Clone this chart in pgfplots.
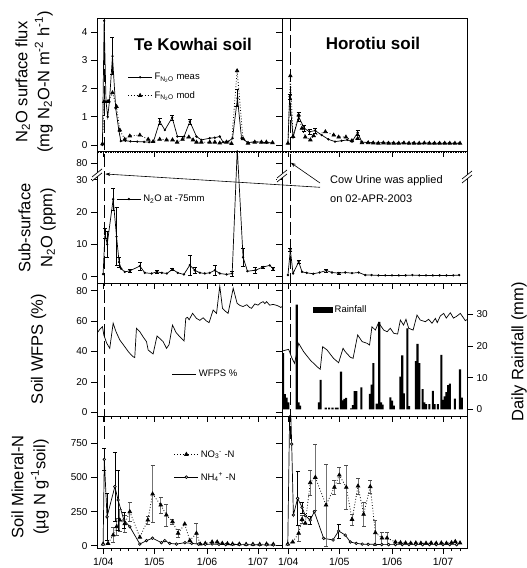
\documentclass[border=0pt]{standalone}
\usepackage{fontspec}
\setmainfont{Liberation Sans}
\usepackage{pgfplots}
\pgfplotsset{compat=1.18}
\usetikzlibrary{arrows.meta}

\newcommand{\tickfont}{\fontsize{10}{12}\selectfont}
\newcommand{\legfont}{\fontsize{9.5}{11}\selectfont}
\newcommand{\labfont}{\fontsize{16.5}{22}\selectfont}

% "//" mark where an axis is broken
\newcommand{\axisbreak}[2]{%
  \fill[white] (#1pt-5pt,#2pt-6pt) -- (#1pt+5pt,#2pt+2pt) -- (#1pt+5pt,#2pt+6pt) -- (#1pt-5pt,#2pt-2pt) -- cycle;
  \draw[line width=0.7pt] (#1pt-5pt,#2pt-6pt) -- (#1pt+5pt,#2pt+2pt);
  \draw[line width=0.7pt] (#1pt-5pt,#2pt-2pt) -- (#1pt+5pt,#2pt+6pt);
}

\pgfplotsset{
  panel/.style={
    scale only axis, width=185pt, anchor=south west,
    xmin=-3.7, xmax=105.1,
    axis line style={line width=0.8pt},
    every tick/.style={black, line width=0.6pt},
    tick align=outside,
    major tick length=6pt, minor tick length=3pt,
    xtick={0,30,61,91}, xticklabels={},
    minor xtick={5,10,15,20,25,35,40,45,50,55,66,71,76,81,86,96,101},
    xtick pos=left, ytick pos=left,
    /pgf/number format/assume math mode=true,
    tick label style={font=\tickfont},
    legend style={draw=none, fill=none, font=\legfont, inner sep=0pt, anchor=west},
    legend cell align=left,
    legend image code/.code={%
      \draw[mark repeat=2, mark phase=2, ##1]
        plot coordinates {(0pt,0pt) (12pt,0pt) (24pt,0pt)};},
  },
  meas/.style={black, line width=0.7pt, mark=*, mark size=0.8pt},
  modl/.style={black, line width=0.8pt, dotted, mark=triangle*, mark size=1.9pt, mark options={solid}},
  nitr/.style={black, line width=0.8pt, dotted, mark=triangle*, mark size=2pt, mark options={solid}},
  ammo/.style={black, line width=0.7pt, mark=*, mark size=1.3pt, mark options={fill=white}},
  ebar/.style={draw=none, forget plot, error bars/.cd, y dir=both, y explicit,
    error bar style={draw=black, solid, line width=0.5pt},
    error mark options={rotate=90, mark size=2pt, draw=black, solid, line width=0.5pt}},
  gbar/.style={draw=none, forget plot, error bars/.cd, y dir=both, y explicit,
    error bar style={draw=black!55, solid, line width=1pt},
    error mark options={rotate=90, mark size=2pt, draw=black!70, solid, line width=0.6pt}},
}

\begin{document}
\begin{tikzpicture}
\useasboundingbox (0pt,0pt) rectangle (527pt,568pt);

%================ Row 1: N2O surface flux ================
\begin{axis}[panel, at={(97pt,417pt)}, height=133pt,
  ymin=-0.213, ymax=4.5, ytick={0,1,2,3,4},
  minor xtick={-3,-2,...,105}, minor tick length=2pt,
  legend style={at={(0.165,0.485)}, row sep=6pt}]
\addplot[meas] table[row sep=\\] {
x y\\ -0.5 0\\ 0.5 4.4\\ 1.6 1.54\\ 2.6 1.0\\ 3.6 1.54\\ 5.4 3.15\\ 7.3 1.3\\ 9.2 0.5\\
10.3 0.14\\ 13 0.15\\ 16 0.13\\ 20 0.12\\ 24 0.11\\ 27 0.1\\ 29.5 0.12\\ 33.2 0.83\\
36.2 0.53\\ 40.5 0.97\\ 43.6 0.3\\ 47.5 0.3\\ 50.9 0.83\\ 54.8 0.3\\ 57.7 0.18\\
62.6 0.24\\ 65.6 0.26\\ 68.5 0.3\\ 70.5 0.1\\ 73.4 0.12\\ 76 0.24\\ 78.9 1.66\\
81.3 0.24\\ 85.2 0.08\\ 89 0.12\\ 93 0.1\\ 96 0.08\\ 99.9 0.08\\
};
\addplot[modl] table[row sep=\\] {
x y\\ -0.5 0.04\\ 0.5 1.54\\ 2.8 1.54\\ 5.4 1.85\\ 7.8 1.36\\ 9.7 0.53\\ 12.6 0.2\\
15.6 0.32\\ 21.5 0.35\\ 26.4 0.2\\ 29.3 0.12\\ 33.2 0.2\\ 37.2 0.18\\ 40.7 0.18\\
43.4 0.1\\ 46.6 0.2\\ 50.3 0.28\\ 52.8 0.18\\ 54.8 0.1\\ 57.7 0.1\\ 62.6 0.1\\
65.6 0.1\\ 68.5 0.07\\ 72.4 0.1\\ 75.4 0.05\\ 78.7 2.63\\ 82.2 0.22\\ 85.1 0.06\\
89.1 0.1\\ 93 0.1\\ 95.9 0.1\\ 99.5 0.08\\
};
\addplot[ebar] table[row sep=\\, y error index=2] {
x y e\\ 5.4 3.15 0.65\\ 33.2 0.83 0.1\\ 40.5 0.97 0.1\\ 50.9 0.83 0.08\\ 78.9 1.66 0.3\\
};
\legend{F\textsubscript{N\textsubscript{2}O} meas, F\textsubscript{N\textsubscript{2}O} mod}
\end{axis}

\begin{axis}[panel, at={(282pt,417pt)}, height=133pt,
  ymin=-0.213, ymax=4.5, ytick={0,1,2,3,4}, yticklabels={},
  minor xtick={-3,-2,...,105}, minor tick length=2pt]
\addplot[meas] table[row sep=\\] {
x y\\ -0.2 0.06\\ 0.8 1.71\\ 2.8 0.27\\ 6.1 1.0\\ 9.4 0.59\\ 12.5 0.47\\ 15.8 0.51\\
19.7 0.35\\ 23.6 0.2\\ 27.5 0.12\\ 31.4 0.15\\ 34.7 0.18\\ 37.5 0.12\\ 40.8 0.44\\
43.3 0.1\\ 46.5 0.09\\ 49.5 0.08\\ 52.5 0.07\\ 55.5 0.08\\ 58.5 0.07\\ 61.5 0.07\\
64.5 0.06\\ 67.5 0.07\\ 70.5 0.06\\ 73.5 0.07\\ 76.5 0.06\\ 79.5 0.06\\ 82.5 0.07\\
85.5 0.06\\ 88.5 0.06\\ 91.5 0.06\\ 94.5 0.06\\ 97.5 0.06\\ 100.5 0.06\\
};
\addplot[modl] table[row sep=\\] {
x y\\ -0.2 0.06\\ 1.2 2.45\\ 2.8 0.3\\ 6.1 1.06\\ 8 0.59\\ 10 0.28\\ 13 0.18\\
14.9 0.33\\ 21.8 0.47\\ 26.7 0.35\\ 29.6 0.28\\ 33.9 0.28\\ 37.4 0.15\\ 40.8 0.23\\
43.3 0.08\\ 47 0.08\\ 50 0.07\\ 53 0.06\\ 56 0.07\\ 59 0.06\\ 62 0.06\\ 65 0.06\\
68 0.07\\ 71 0.06\\ 74 0.06\\ 77 0.06\\ 80 0.07\\ 83 0.06\\ 86 0.06\\ 89 0.06\\
92 0.06\\ 95 0.06\\ 98 0.06\\ 101 0.06\\
};
\addplot[ebar] table[row sep=\\, y error index=2] {
x y e\\ 0.8 1.71 0.1\\ 6.1 1.0 0.15\\ 9.4 0.59 0.1\\ 12.5 0.47 0.1\\ 15.8 0.51 0.08\\ 40.8 0.44 0.08\\
};
\end{axis}

%================ Row 2: sub-surface N2O (upper segment above the break is compressed) ================
\begin{axis}[panel, at={(97pt,285pt)}, height=132pt,
  ymin=-1.95, ymax=38.9, ytick={0,10,20,30,35.17}, yticklabels={0,10,20,30,80},
  legend style={at={(0.105,0.636)}}]
\addplot[meas] table[row sep=\\] {
x y\\ -0.1 0.8\\ 1.0 13.5\\ 2.3 10.0\\ 5.8 24.0\\ 7.8 12.4\\ 9.3 4.5\\ 10.5 2.5\\
12.6 1.5\\ 15.6 1.8\\ 21.5 3.3\\ 24.4 1.2\\ 28.4 1.0\\ 31.5 1.5\\ 34.4 1.2\\
37.4 1.0\\ 40.7 2.3\\ 43.8 1.2\\ 47.4 0.7\\ 50.9 3.6\\ 53.8 2.0\\ 56.8 1.2\\
59.7 1.0\\ 62.6 1.2\\ 65.6 2.0\\ 68.5 1.0\\ 72.5 0.7\\ 75.8 1.0\\ 78.8 39.5\\
82.2 6.0\\ 84.8 1.7\\ 89.5 2.0\\ 94 3.0\\ 97.9 3.5\\ 99.9 2.4\\
};
\addplot[ebar] table[row sep=\\, y error index=2] {
x y e\\ 1.0 13.5 1.5\\ 2.3 10.0 4\\ 5.8 24.0 3.5\\ 7.8 12.4 9\\ 9.3 4.5 1.5\\
15.6 1.8 0.5\\ 21.5 3.3 1.2\\ 31.5 1.5 0.4\\ 40.7 2.3 0.3\\ 50.9 3.6 3\\ 53.8 2.0 0.8\\
65.6 2.0 1.5\\ 75.8 1.0 0.8\\ 82.2 6.0 2.8\\ 89.5 2.0 1\\ 94 3.0 0.3\\ 99.9 2.4 0.5\\
};
\legend{N\textsubscript{2}O at -75mm}
\end{axis}

\begin{axis}[panel, at={(282pt,285pt)}, height=132pt,
  ymin=-1.95, ymax=38.9, ytick={0,10,20,30,35.17}, yticklabels={}]
\addplot[meas] table[row sep=\\] {
x y\\ -0.2 0.5\\ 1.2 8.3\\ 2.8 1.0\\ 6.1 4.6\\ 8.1 1.5\\ 10.8 1.2\\ 14.7 0.9\\
18.4 1.3\\ 22.4 1.9\\ 25.7 1.3\\ 29.6 1.1\\ 33.5 1.3\\ 37.5 1.1\\ 41.4 1.3\\
45.3 0.5\\ 49 0.5\\ 53 0.4\\ 57 0.4\\ 61 0.4\\ 65 0.4\\ 69 0.4\\ 73 0.5\\ 77 0.4\\
81 0.4\\ 85 0.4\\ 89 0.4\\ 93 0.4\\ 97 0.4\\ 100.5 0.5\\
};
\addplot[ebar] table[row sep=\\, y error index=2] {
x y e\\ 1.2 8.3 0.5\\ 6.1 4.6 0.5\\ 22.4 1.9 0.5\\ 29.6 1.1 0.3\\
};
\end{axis}

%================ Row 3: WFPS and rainfall ================
\begin{axis}[panel, at={(97pt,152pt)}, height=133pt,
  ymin=-2.43, ymax=85.07, ytick={0,20,40,60,80},
  legend style={at={(0.405,0.316)}}]
\addplot[black, line width=0.7pt] table[row sep=\\] {
x y\\ -3.7 52\\ -2.1 54.5\\ -0.5 56.3\\ 0.3 50.9\\ 2.0 45.5\\ 3.8 42.1\\ 5.8 58.6\\
7.5 53\\ 9.7 47.6\\ 12.6 43.2\\ 15.0 39.5\\ 17.5 36.6\\ 18.5 36.0\\ 19.5 55.3\\
21.5 53.0\\ 23.5 49.5\\ 25.4 46.5\\ 26.4 41.0\\ 28.0 39.5\\ 29.3 38.4\\ 31.6 50.2\\
33.5 48.3\\ 35.2 46.5\\ 37.2 42.1\\ 38.7 44.6\\ 40.7 57.4\\ 42.8 52.5\\ 45.0 49.7\\
47.5 46.9\\ 48.5 61.8\\ 49.5 62.5\\ 50.5 60.9\\ 52.5 65.1\\ 54.8 61.8\\ 56.8 60.5\\
58.7 62.2\\ 60.5 60.2\\ 62.2 59.0\\ 64.6 67.3\\ 66.6 65.1\\ 68.5 83.1\\ 70.1 68.4\\
71.8 66.5\\ 73.4 65.1\\ 76.4 81.6\\ 78.7 71.7\\ 80.5 70.2\\ 82.2 69.6\\ 84.4 70.8\\
86.0 69.0\\ 87.2 68.4\\ 89.1 71.3\\ 91.0 70.5\\ 92.5 72.0\\ 94.0 72.8\\ 95.0 71.5\\
96.0 72.8\\ 97.9 70.5\\ 99.9 71.0\\ 101.5 70.5\\ 102.8 70.0\\ 104.4 69.0\\ 105.1 69.5\\
};
\legend{WFPS \%}
\end{axis}

\begin{axis}[panel, at={(282pt,152pt)}, height=133pt,
  ymin=-2.43, ymax=85.07, ytick={0,20,40,60,80}, yticklabels={}]
\addplot[black, line width=0.7pt] table[row sep=\\] {
x y\\ -3.7 40.3\\ 0.2 41.4\\ 2.2 35.5\\ 3.7 32.2\\ 6.1 45.4\\ 9.0 39.9\\ 12.9 34.4\\
16.9 30.0\\ 18.8 28.3\\ 20.2 43.2\\ 22.8 41.0\\ 26.6 35.5\\ 29.6 32.6\\ 32.2 42.1\\
33.5 39.9\\ 36.5 36.2\\ 38.1 35.5\\ 40.8 50.9\\ 43.4 46.5\\ 46.3 45.4\\ 47.8 44.3\\
49.2 56.3\\ 51.2 54.1\\ 53.1 59.0\\ 56.1 54.1\\ 58.1 53.0\\ 60.0 55.3\\ 62.0 52.0\\
64.3 51.5\\ 65.9 60.7\\ 67.8 57.4\\ 69.2 61.2\\ 70.8 55.3\\ 73.4 54.1\\ 75.7 64.0\\
77.6 60.7\\ 80.6 59.6\\ 82.5 61.2\\ 84.5 58.6\\ 86.5 61.8\\ 87.6 59.0\\ 89.4 63.4\\
91.4 65.1\\ 92.9 62.0\\ 95.3 65.5\\ 97.1 62.0\\ 98.8 63.0\\ 101.2 65.1\\ 104.1 60.3\\
105.1 61.0\\
};
\end{axis}

\begin{axis}[scale only axis, width=185pt, height=133pt, anchor=south west,
  at={(282pt,152pt)}, xmin=-3.7, xmax=105.1,
  ymin=-2.11, ymax=39.84, ytick={0,10,20,30,40},
  axis y line*=right, hide x axis,
  axis line style={line width=0.8pt},
  every tick/.style={black, line width=0.6pt},
  tick align=outside, major tick length=6pt,
  /pgf/number format/assume math mode=true,
  tick label style={font=\tickfont},
  ybar, bar width=2.1pt,
  legend style={draw=none, fill=none, font=\legfont, inner sep=0pt, anchor=west, at={(0.165,0.797)}},
  legend image code/.code={\fill[black] (0pt,-3.3pt) rectangle (20pt,3.3pt);}]
\addplot[fill=black, draw=none] table[row sep=\\] {
x y\\ -3 17.7\\ -2 4.8\\ -1 3.7\\ 0 2.2\\ 5 33\\ 6 2.2\\ 7 1.2\\ 18 2.2\\ 19 9.3\\
22 0.5\\ 24 0.5\\ 26 0.5\\ 28 0.5\\ 29 0.5\\ 31 11.9\\ 32 2.8\\ 33 3.3\\ 34 3.6\\
37 0.3\\ 38 1.3\\ 39 5.7\\ 40 5.7\\ 43 6.9\\ 48 4.9\\ 49 7.8\\ 50 14.6\\ 52 1.8\\
53.5 27.6\\ 54.5 2.2\\ 55.5 1.5\\ 60 3.8\\ 61 2.7\\ 62 1.2\\ 66 10.3\\ 67 17\\
68 5\\ 70 25.5\\ 71 1\\ 75 15.2\\ 76 20.6\\ 77 14.6\\ 79 6.4\\ 80 2.2\\ 81 1.6\\
83 1.6\\ 85 5.8\\ 86 1.6\\ 88 1.6\\ 90 17.2\\ 91 3\\ 92 4.1\\ 93 5.4\\ 94 7.6\\
95 8.1\\ 98 3.4\\ 101 12.6\\ 102 3.7\\
};
\legend{Rainfall}
\end{axis}

%================ Row 4: soil mineral N ================
\begin{axis}[panel, at={(97pt,20pt)}, height=132pt,
  ymin=-16.9, ymax=951, ytick={0,250,500,750},
  xticklabels={1/04,1/05,1/06,1/07},
  xticklabel style={font=\fontsize{10.5}{12}\selectfont},
  legend style={at={(0.415,0.621)}, row sep=10pt}]
\addplot[nitr] table[row sep=\\] {
x y\\ -0.1 12\\ 2.8 17\\ 5.8 78\\ 7.8 139\\ 9.7 188\\ 12.6 161\\ 15.6 249\\
21.5 62\\ 26.2 188\\ 29.0 379\\ 33.8 298\\ 37.1 225\\ 40.7 176\\ 44 91\\ 47.9 159\\
50.9 38\\ 54.8 91\\ 57 12\\ 60 17\\ 64 27\\ 67 27\\ 70 17\\ 73 15\\ 76 12\\ 80 12\\
84 10\\ 88 10\\ 92 10\\ 96 12\\ 100 10\\
};
\addplot[ammo] table[row sep=\\] {
x y\\ -0.1 10\\ 0.6 633\\ 2.2 212\\ 6.8 433\\ 8.7 335\\ 12.1 188\\ 15.6 139\\
21.5 12\\ 25.4 37\\ 28.9 55\\ 34.2 22\\ 36.2 37\\ 39.1 17\\ 43 12\\ 48 22\\ 52 17\\
56 12\\ 60 10\\ 64 12\\ 68 10\\ 72 8\\ 76 10\\ 80 8\\ 84 8\\ 88 8\\ 92 6\\ 96 6\\ 100 5\\
};
\addplot[gbar] table[row sep=\\, y error index=2] {
x y e\\ 5.8 78 55\\ 7.8 139 60\\ 9.7 188 80\\ 12.6 161 60\\ 15.6 249 70\\ 26.2 188 30\\
29.0 379 210\\ 33.8 298 60\\ 37.1 225 80\\ 40.7 176 20\\ 44 91 30\\ 54.8 91 75\\
};
\addplot[ebar] table[row sep=\\, y error index=2] {
x y e\\ 0.6 633 80\\ 2.2 212 170\\ 6.8 433 255\\ 8.7 335 220\\ 12.1 188 60\\
};
\legend{NO\textsubscript{3}\textsuperscript{-} -N, NH\textsubscript{4}\textsuperscript{+} -N}
\end{axis}

\begin{axis}[panel, at={(282pt,20pt)}, height=132pt,
  ymin=-16.9, ymax=951, ytick={0,250,500,750}, yticklabels={},
  xticklabels={1/04,1/05,1/06,1/07},
  xticklabel style={font=\fontsize{10.5}{12}\selectfont}]
\addplot[nitr] table[row sep=\\] {
x y\\ -0.3 12\\ 2.6 27\\ 6.1 91\\ 8.1 193\\ 10 164\\ 12.9 462\\ 15.9 501\\ 22.2 298\\
27.1 428\\ 30 518\\ 34.1 428\\ 37.5 193\\ 41 437\\ 44.3 230\\ 48.2 433\\ 51.2 95\\
55.1 56\\ 58.1 56\\ 63 27\\ 66 22\\ 69 20\\ 72 18\\ 75 20\\ 78 18\\ 81 18\\ 84 20\\
87 18\\ 90 20\\ 93 18\\ 96 22\\ 98.2 30\\ 101 20\\
};
\addplot[ammo] table[row sep=\\] {
x y\\ -0.3 10\\ 1.0 1150\\ 2.0 745\\ 3.0 225\\ 5.5 347\\ 8.1 281\\ 10 220\\ 12.9 188\\
15.3 249\\ 20.8 54\\ 26.3 42\\ 29.6 108\\ 33.5 78\\ 36.5 27\\ 40 17\\ 43.5 12\\
47 10\\ 51 10\\ 55 8\\ 59 8\\ 63 8\\ 67 8\\ 71 8\\ 75 8\\ 79 8\\ 83 8\\ 87 8\\
91 8\\ 95 8\\ 99 8\\
};
\addplot[gbar] table[row sep=\\, y error index=2] {
x y e\\ 6.1 91 60\\ 8.1 193 30\\ 12.9 462 90\\ 15.9 501 240\\ 22.2 298 300\\
27.1 428 50\\ 30 518 60\\ 34.1 428 160\\ 37.5 193 40\\ 41 437 60\\ 44.3 230 90\\
48.2 433 50\\ 51.2 95 90\\ 55.1 56 45\\ 58.1 56 45\\
};
\addplot[ebar] table[row sep=\\, y error index=2] {
x y e\\ 5.5 347 200\\ 8.1 281 40\\ 12.9 188 30\\ 29.6 108 50\\
};
\end{axis}

%================ Annotations ================
% day of urine application
\draw[line width=0.8pt, dash pattern=on 13pt off 4pt] (104.8pt,550pt) -- (104.8pt,128pt);
\draw[line width=0.8pt, dash pattern=on 13pt off 4pt] (290.3pt,550pt) -- (290.3pt,128pt);

% broken sub-surface axis
\axisbreak{97}{393}
\axisbreak{282}{392}
\axisbreak{467}{391}

\draw[line width=0.6pt, -{Stealth[length=5pt,width=3.5pt]}] (320pt,385pt) -- (290.8pt,405.3pt);
\draw[line width=0.6pt, -{Stealth[length=5pt,width=3.5pt]}] (320pt,380.7pt) -- (105.3pt,394pt);
\node[anchor=base west, inner sep=0pt, font=\fontsize{11}{13}\selectfont] at (330pt,384pt) {Cow Urine was applied};
\node[anchor=base west, inner sep=0pt, font=\fontsize{11}{13}\selectfont] at (330pt,365pt) {on 02-APR-2003};

% panel titles
\node[font=\fontsize{17}{20}\selectfont\bfseries] at (193pt,524pt) {Te Kowhai soil};
\node[font=\fontsize{17}{20}\selectfont\bfseries] at (373pt,525pt) {Horotiu soil};

% axis titles
\node[rotate=90, align=center, font=\labfont] at (34pt,486pt)
  {N\textsubscript{2}O surface flux\\(mg N\textsubscript{2}O-N m\textsuperscript{-2} h\textsuperscript{-1})};
\node[rotate=90, align=center, font=\labfont] at (37pt,340pt)
  {Sub-surface\\N\textsubscript{2}O (ppm)};
\node[rotate=90, align=center, font=\labfont] at (38.5pt,219pt) {Soil WFPS (\%)};
\node[rotate=90, align=center, font=\labfont] at (30pt,81pt)
  {Soil Mineral-N\\(µg N g\textsuperscript{-1}soil)};
\node[rotate=90, font=\labfont] at (519pt,216pt) {Daily Rainfall (mm)};
\end{tikzpicture}
\end{document}
